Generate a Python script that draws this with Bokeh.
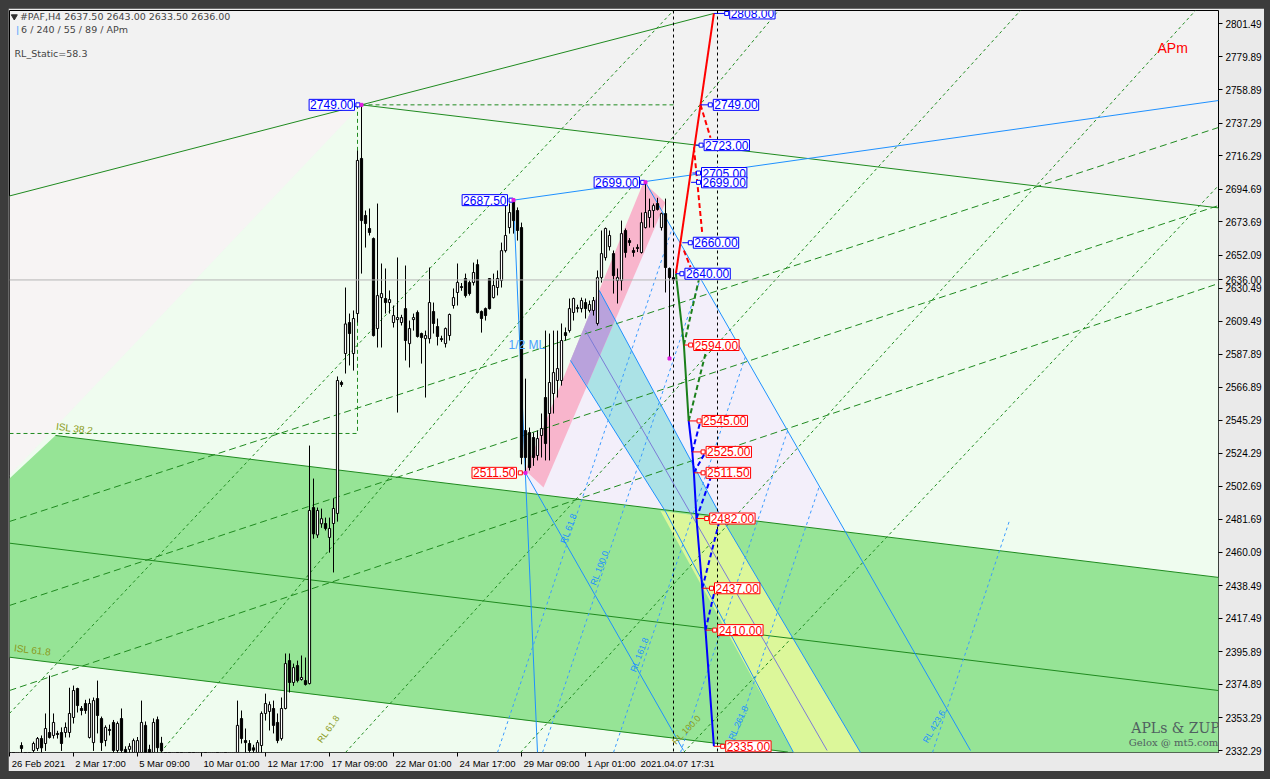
from bokeh.plotting import figure
from bokeh.models import Range1d, FixedTicker, Label, NumeralTickFormatter, Span
from bokeh.embed import file_html
from bokeh.resources import INLINE

try:
    from bokeh.models import GlobalInlineStyleSheet
    _css = [GlobalInlineStyleSheet(css="body{background:#3c3c3c !important; padding:8px 0 0 8px !important;}")]
except Exception:
    _css = []

# ---------------- data ----------------
opens = [2326, 2325, 2324, 2335.5, 2327, 2328, 2332.3, 2333.6, 2340, 2336.8,
         2343.9, 2342, 2343.3, 2343.9, 2343.9, 2343.9, 2353.6, 2372.3, 2359.4, 2362.6,
         2340.7, 2337.4, 2365.8, 2352.9, 2338.7, 2345.9, 2350.4, 2332.3, 2352.9, 2333,
         2333, 2331, 2331, 2331, 2348.5, 2333, 2331, 2352.2, 2337, 2326,
         2320, 2315, 2319, 2316, 2308, 2312, 2309, 2304, 2310, 2318,
         2314, 2317, 2322, 2319, 2324, 2321, 2326, 2331, 2352.9, 2338.7,
         2336.8, 2334, 2331, 2335.5, 2356.2, 2357.5, 2359.4, 2350.4, 2340, 2359.4,
         2390.3, 2376.2, 2387.1, 2378.1, 2377.4, 2375.5, 2489.1, 2471.4, 2478.6, 2478.8,
         2469.8, 2478.8, 2485.3, 2569.8, 2588.5, 2608.5, 2588.5, 2614.3, 2714.4, 2677.6,
         2669.2, 2662.7, 2604.6, 2624.6, 2624, 2621.4, 2608.5, 2610.4, 2608.5, 2617.5,
         2594.9, 2610.4, 2615, 2601.4, 2598.1, 2598.1, 2615.6, 2605.9, 2598.1, 2594.9,
         2600.1, 2619.5, 2627.9, 2631.7, 2636.9, 2634.3, 2634.3, 2645.9, 2615.6, 2617.5,
         2636.9, 2624.6, 2631.1, 2635.6, 2654.9, 2669.8, 2687.2, 2680.8, 2669.8, 2538.8,
         2537.5, 2534.3, 2522.7, 2535.6, 2560.1, 2549.8, 2562.7, 2571.1, 2571.1, 2602,
         2603.3, 2615, 2617.5, 2617.5, 2621.4, 2616.3, 2616.3, 2607.9, 2637.5, 2650.4,
         2657.5, 2653, 2635.6, 2635.6, 2667.9, 2661.4, 2655, 2657, 2653.7, 2669.8,
         2676.3, 2680.8, 2685.3, 2669.8, 2678.8, 2643.4, 2637.5]
highs = [2329, 2328, 2329, 2337.6, 2329, 2330, 2338, 2341, 2342, 2356.2,
         2380.7, 2356.2, 2345, 2347.2, 2350.4, 2372.8, 2374.2, 2372.8, 2361, 2365,
         2365.8, 2366.5, 2377.4, 2354.2, 2348.5, 2349, 2352, 2351, 2359.4, 2335,
         2337, 2340, 2341, 2364.5, 2351, 2336, 2353, 2354.2, 2341.1, 2329,
         2324, 2322, 2325, 2320, 2315, 2318, 2316, 2312, 2322, 2326,
         2320, 2325, 2328, 2327, 2329, 2328, 2329, 2364.5, 2358.1, 2346.5,
         2339, 2336, 2339, 2357.5, 2369, 2363.9, 2364.5, 2356.2, 2366.5, 2394.9,
         2394.9, 2388.4, 2390.3, 2393.6, 2392.3, 2529.1, 2507.8, 2489.1, 2488.4, 2482.6,
         2482.6, 2495, 2573.7, 2571, 2631.1, 2614.3, 2616.3, 2719.5, 2749, 2680.8,
         2682.1, 2663.4, 2685.3, 2646.6, 2643.4, 2629.2, 2619.5, 2650.5, 2613.5, 2645.3,
         2609.8, 2614.3, 2616.3, 2602, 2603.3, 2644, 2621.4, 2611.1, 2600, 2605.3,
         2614.3, 2630.5, 2646.6, 2634, 2640.1, 2635.6, 2647.2, 2649.2, 2616.3, 2618.2,
         2637, 2640.1, 2642.1, 2660.1, 2685.3, 2685.3, 2687.5, 2682.8, 2673, 2572.3,
         2540.7, 2537.5, 2538.8, 2549.8, 2603.3, 2601.4, 2603.3, 2603.3, 2607.9, 2605.3,
         2624, 2624.6, 2620, 2624.6, 2624, 2622.7, 2625, 2642.1, 2667.9, 2669.8,
         2667.9, 2655, 2643.4, 2674.3, 2669.2, 2663, 2657, 2659, 2679.5, 2699,
         2688.5, 2685.3, 2689, 2679.5, 2688.5, 2644, 2643]
lows = [2322, 2320, 2321, 2330, 2322, 2324, 2331, 2332, 2331, 2332,
        2340, 2340, 2340, 2332, 2340.7, 2340.7, 2349.7, 2356.8, 2355, 2356,
        2340, 2332, 2343.3, 2332, 2335, 2342, 2330, 2330, 2330, 2328,
        2329, 2329, 2329, 2329, 2329, 2328, 2329, 2331, 2328, 2318,
        2312, 2310, 2314, 2305, 2302, 2306, 2300, 2298, 2306, 2312,
        2306, 2311, 2315, 2313, 2316, 2314, 2318, 2328, 2336.8, 2330,
        2329, 2329, 2329, 2330, 2351.6, 2345.2, 2343.3, 2337, 2338.7, 2358.8,
        2369.7, 2374, 2376.2, 2377.4, 2374.2, 2374.9, 2469, 2469.5, 2476, 2474.3,
        2460, 2447.2, 2480, 2567, 2575.6, 2580.8, 2577.5, 2608.5, 2640.1, 2656.9,
        2664.7, 2599.5, 2592.4, 2592.4, 2614.3, 2614.3, 2605.3, 2550.4, 2606.6, 2584,
        2579.5, 2603.3, 2598.8, 2582, 2560.1, 2595, 2601.4, 2593.7, 2596, 2592.4,
        2596.9, 2617.5, 2619.5, 2629, 2624.6, 2625.9, 2632.4, 2614.3, 2602, 2609.8,
        2616.9, 2624, 2626, 2631.1, 2653.7, 2665.9, 2665.9, 2661.4, 2517, 2511.5,
        2513, 2516, 2519.5, 2521.4, 2519.5, 2519.5, 2549.8, 2560.1, 2567.8, 2596.9,
        2602, 2609.8, 2615, 2615, 2611.1, 2615, 2613, 2606.6, 2634.3, 2648.5,
        2655, 2627.2, 2620.8, 2629.2, 2650.4, 2658, 2651, 2654, 2653, 2669.2,
        2669.8, 2669.8, 2680.8, 2667.9, 2627.9, 2585.3, 2633.5]
closes = [2325, 2323, 2327, 2333.6, 2325, 2326, 2336.8, 2340.0, 2334, 2346.5,
          2340.7, 2350.4, 2342.6, 2336.8, 2347.2, 2356.2, 2371, 2361.3, 2358.1, 2358.1,
          2362.6, 2364.5, 2354.9, 2337.4, 2347.2, 2345.2, 2332.3, 2349.7, 2332.3, 2331,
          2335, 2338.7, 2338.7, 2350.4, 2331, 2331, 2350.4, 2334.1, 2332, 2320,
          2315, 2319, 2316, 2308, 2312, 2309, 2304, 2310, 2318, 2314,
          2317, 2322, 2319, 2324, 2321, 2326, 2327, 2348.5, 2340, 2337.4,
          2332.3, 2332.5, 2337.4, 2356.2, 2362.6, 2361.9, 2348.5, 2338.7, 2359.4, 2388.4,
          2376.2, 2385.8, 2377.4, 2379.4, 2374.9, 2487.2, 2472.1, 2487.2, 2481.9, 2475.6,
          2475.6, 2488.5, 2571.1, 2568.5, 2607.6, 2601.4, 2611.1, 2713.1, 2674.3, 2672.4,
          2666.6, 2600.1, 2625.9, 2627.2, 2621.4, 2623.3, 2613, 2611.7, 2611.7, 2596.9,
          2604.6, 2611.7, 2599.5, 2598.8, 2600.1, 2621.4, 2607.9, 2599.5, 2597.5, 2604.6,
          2613.7, 2624.6, 2634.4, 2631.1, 2625.9, 2627.2, 2640.8, 2615, 2611.1, 2613,
          2617.5, 2632.4, 2636.9, 2654.9, 2664.7, 2679.5, 2674.3, 2667.9, 2521.4, 2521.4,
          2514.9, 2521.4, 2533.6, 2540.1, 2530.4, 2569.8, 2576.2, 2578.8, 2596.9, 2600.1,
          2617.5, 2624, 2618.2, 2622.7, 2617.5, 2620.1, 2622.7, 2637.5, 2653, 2669.2,
          2664.7, 2638.8, 2637.5, 2665.9, 2653.7, 2660.1, 2653.7, 2656.3, 2673, 2679.5,
          2680.8, 2684, 2681.5, 2678.8, 2644, 2637.5, 2636]
bars = list(range(len(opens)))

x_tick_bars = [0, 16, 32, 48, 64, 80, 96, 112, 128, 144]
x_tick_labels = ["26 Feb 2021", "2 Mar 17:00", "5 Mar 09:00", "10 Mar 01:00", "12 Mar 17:00",
                 "17 Mar 09:00", "22 Mar 01:00", "24 Mar 17:00", "29 Mar 09:00", "1 Apr 01:00"]
# label centres (bars) so that each date text starts just right of its tick mark
x_label_centres = [7.25, 22.75, 38.75, 55.5, 71.5, 87.5, 103.5, 119.5, 135.5, 150.5]
cursor_label = "2021.04.07 17:31"
cursor_label_centre = 167.0
y_ticks = [2801.49, 2779.89, 2758.89, 2737.29, 2716.29, 2694.69, 2673.69, 2652.09, 2630.49,
           2609.49, 2587.89, 2566.89, 2545.29, 2524.29, 2502.69, 2481.69, 2460.09, 2438.49,
           2417.49, 2395.89, 2374.89, 2353.29, 2332.29]

last_price = 2636.00
cursor_bar = 166
cursor_bar2 = 177

pivot_bars = [88, 126, 129, 159]
pivot_prices = [2749.0, 2687.5, 2511.5, 2699.0]
pivot_box_right = [86.5, 124.75, 127.0, 157.75]
pivot_marker = [87.1, 125.4, 127.7, 158.3]

lvl_prices = [2808.0, 2749.0, 2723.0, 2705.0, 2699.0, 2660.0, 2640.0,
              2594.0, 2545.0, 2525.0, 2511.5, 2482.0, 2437.0, 2410.0, 2335.0]
lvl_point_bar = [176.1, 172.75, 171.5, 170.7, 170.4, 168.2, 166.6,
                 168.6, 169.8, 170.7, 171.1, 171.75, 173.2, 174.0, 176.1]
lvl_box_bar = [179.8, 175.7, 173.4, 172.75, 172.75, 170.7, 168.6,
               170.8, 172.9, 173.9, 173.9, 174.8, 176.0, 176.8, 178.8]

# ---------------- figure ----------------
X0, X1 = 0.0, 302.25
Y0, Y1 = 2331.0, 2809.9
FW, FH = 1209, 742
p = figure(frame_width=FW, frame_height=FH, x_range=Range1d(X0, X1), y_range=Range1d(Y0, Y1),
           output_backend="svg", toolbar_location=None, y_axis_location="right",
           min_border_left=1, min_border_top=2, min_border_right=44, min_border_bottom=19)
if _css:
    p.stylesheets = _css
p.background_fill_color = "#f2f2f2"
p.border_fill_color = "#eaeaea"
p.outline_line_color = "black"
p.outline_line_width = 1
p.grid.visible = False

AX_FONT = "Liberation Sans"
xl_pos = x_label_centres + [cursor_label_centre]
xl_txt = x_tick_labels + [cursor_label]
p.xaxis.ticker = FixedTicker(ticks=xl_pos, minor_ticks=x_tick_bars)
p.xaxis.major_label_overrides = {c: t for c, t in zip(xl_pos, xl_txt)}
p.xaxis.major_tick_out = 0
p.xaxis.major_tick_in = 0
p.xaxis.minor_tick_out = 4
p.xaxis.minor_tick_in = 0
p.xaxis.minor_tick_line_color = "black"
p.xaxis.major_label_standoff = 1
p.xaxis.major_label_text_font_size = "9.5px"
p.yaxis.ticker = FixedTicker(ticks=y_ticks + [last_price])
p.yaxis.formatter = NumeralTickFormatter(format="0.00")
p.yaxis.major_label_standoff = 3
p.yaxis.major_tick_in = 0
p.yaxis.major_tick_out = 4
p.yaxis.minor_tick_line_color = None
p.yaxis.major_label_text_font_size = "10px"
for ax in (p.xaxis, p.yaxis):
    ax.major_label_text_font = AX_FONT
    ax.major_label_text_color = "black"
    ax.axis_line_color = None
    ax.major_tick_line_color = "black"

# ---------------- shaded regions ----------------
g1_b = [X0, 88, 176.1]
g1_p = [2690.2, 2749.0, 2808.0]
g2_b = [88, X1]
g2_p = [2749.0, 2682.5]
band_up = [(11.5, 2535.6), (X1, 2444.0)]
band_mid = [(X0, 2466.1), (X1, 2371.0)]
band_lo = [(X0, 2392.5), (194.6, 2331.3)]

p.patch([X0, 88, X0], [2690.2, 2749.0, 2509.8], color="#f7f4f4", line_color=None)
p.patch([88, X1, X1, X0, X0], [2749.0, 2682.5, Y0, Y0, 2509.8], color="#effcef", line_color=None)
p.patch([159, 209.25, 130.25, 129], [2699.0, 2471.7, 2497.5, 2511.5], color="#f3effa", line_color=None)
p.patch([140.25, 147.45, 178.15, 164.0], [2584.0, 2629.2, 2482.0, 2486.5], color="#abe2e6", line_color=None)
p.patch([129, 158.5, 164, 133.5], [2513.0, 2699.0, 2685.9, 2502.0], color="#f8b5cc", line_color=None)
p.patch([140.25, 147.45, 151.4, 144.4], [2584.0, 2629.2, 2610.1, 2567.9], color="#b9a2dc", line_color=None)
p.patch([X0, 11.5, X1, X1, 194.6, X0], [2507.8, 2535.6, 2444.0, Y0, Y0, 2392.5], color="#96e496", line_color=None)
p.patch([162.75, 178.15, 212.75, 196.0], [2486.9, 2482.0, Y0, Y0], color="#dcf79a", line_color=None)

# ---------------- lines ----------------
GREEN = "#1f8a1f"
BLUE = "#1e90ff"
p.line(g1_b, g1_p, color=GREEN, line_width=1)
p.line(g2_b, g2_p, color=GREEN, line_width=1)
for seg in (band_up, band_mid, band_lo):
    p.line([seg[0][0], seg[1][0]], [seg[0][1], seg[1][1]], color=GREEN, line_width=1)

dash_long = [[(X0, 2480.1), (X1, 2734.4)], [(X0, 2425.9), (X1, 2684.0)], [(X0, 2371.0), (X1, 2633.7)]]
for s in dash_long:
    p.line([s[0][0], s[1][0]], [s[0][1], s[1][1]], color=GREEN, line_width=1, line_dash="7 4")
dash_short = [[(X0, 2356.2), (166.0, 2809.9)], [(37.75, 2331.0), (192.25, 2809.9)],
              [(84.0, 2331.0), (252.75, 2809.9)], [(127.75, 2331.0), (296.5, 2809.9)],
              [(168.5, 2331.0), (X1, 2696.9)]]
for s in dash_short:
    p.line([s[0][0], s[1][0]], [s[0][1], s[1][1]], color=GREEN, line_width=1, line_dash="3 3")

p.line([X0, 87], [2536.9, 2536.9], color=GREEN, line_width=1, line_dash="4 3")
p.line([87, 87], [2749.0, 2536.9], color=GREEN, line_width=1, line_dash="4 3")
p.line([88, 166], [2749.0, 2749.0], color=GREEN, line_width=1, line_dash="4 3")

p.line([126, X1], [2687.5, 2751.8], color=BLUE, line_width=1)
p.line([126, 132], [2687.5, Y0], color=BLUE, line_width=1)
p.line([129, 168.5], [2511.5, 2332.3], color=BLUE, line_width=1)
p.line([159, 240.25], [2699.0, 2332.3], color=BLUE, line_width=1)
p.line([147.45, 178.15, 212.75], [2629.2, 2482.0, Y0], color=BLUE, line_width=1)
p.line([140.25, 164.0, 196.0], [2584.0, 2486.5, Y0], color=BLUE, line_width=1)
p.line([144.0, 204.4], [2603.3, 2332.3], color="#7b7bd6", line_width=1)
blue_dash = [((122.0, Y0), (165.65, 2669.2)), ((133.25, Y0), (172.75, 2636.9)),
             ((151.0, Y0), (184.0, 2586.6)), ((167.75, Y0), (194.55, 2538.8)),
             ((180.25, Y0), (202.45, 2502.7)), ((230.75, Y0), (250.0, 2480.7))]
for a, b in blue_dash:
    p.line([a[0], b[0]], [a[1], b[1]], color="#3c9cff", line_width=1, line_dash="3 3")

p.add_layout(Span(location=last_price, dimension="width", line_color="#b4b4b4", line_width=1))
p.add_layout(Span(location=cursor_bar, dimension="height", line_color="black", line_width=1, line_dash="3 3"))
p.add_layout(Span(location=cursor_bar2, dimension="height", line_color="black", line_width=1, line_dash="3 3"))

# ---------------- candles ----------------
p.segment(bars, highs, bars, lows, color="black", line_width=1)
up = [i for i in bars if closes[i] >= opens[i]]
dn = [i for i in bars if closes[i] < opens[i]]
p.vbar(x=up, width=0.55, bottom=[opens[i] for i in up], top=[closes[i] for i in up],
       fill_color="white", line_color="black", line_width=1)
p.vbar(x=dn, width=0.55, bottom=[closes[i] for i in dn], top=[opens[i] for i in dn],
       fill_color="black", line_color="black", line_width=1)

# ---------------- ZUP zigzag ----------------
RED = "#ff0000"
ZBLUE = "#0000ff"
DGREEN = "#1a7f1a"
p.line([166.6, 176.1], [2640.0, 2808.0], color=RED, line_width=2)
p.line([166.6, 168.6, 169.8], [2640.0, 2594.0, 2545.0], color=DGREEN, line_width=2)
p.line([169.8, 170.7, 171.1, 171.75, 173.2, 174.0, 176.1],
       [2545.0, 2525.0, 2511.5, 2482.0, 2437.0, 2410.0, 2335.0], color=ZBLUE, line_width=2)
for a, b in [((172.75, 2749.0), (175.25, 2727.8)), ((171.1, 2721.6), (173.2, 2665.7)),
             ((168.6, 2655.0), (170.25, 2644.2))]:
    p.line([a[0], b[0]], [a[1], b[1]], color=RED, line_width=2, line_dash="5 3")
for a, b in [((169.8, 2545.0), (174.4, 2592.6)), ((168.6, 2594.0), (172.4, 2636.9))]:
    p.line([a[0], b[0]], [a[1], b[1]], color=DGREEN, line_width=2, line_dash="5 3")
for a, b in [((170.7, 2525.0), (172.75, 2545.0)), ((171.1, 2511.5), (174.0, 2525.0)),
             ((171.75, 2482.0), (175.25, 2508.0)), ((173.2, 2437.0), (177.3, 2478.6)),
             ((174.0, 2410.0), (176.5, 2437.7))]:
    p.line([a[0], b[0]], [a[1], b[1]], color=ZBLUE, line_width=2, line_dash="5 3")

BOX_FONT = "Liberation Sans"
BOX_SIZE = "12px"
for k, (pr, pb, bb) in enumerate(zip(lvl_prices, lvl_point_bar, lvl_box_bar)):
    col = ZBLUE if k < 7 else RED
    p.line([pb, bb - 0.5], [pr, pr], color=col, line_width=1)
    p.scatter([bb - 0.5], [pr], marker="square", size=4, fill_color="white", line_color=col)
    p.add_layout(Label(x=bb, y=pr, x_offset=1, text=f"{pr:.2f}", text_font=BOX_FONT,
                       text_font_size=BOX_SIZE, text_color=col, text_baseline="middle",
                       text_align="left", background_fill_color="white",
                       border_line_color=col, padding=1))

for pb, pr, br, mk in zip(pivot_bars, pivot_prices, pivot_box_right, pivot_marker):
    col = RED if pr == 2511.5 else ZBLUE
    p.line([mk, pb], [pr, pr], color=col, line_width=1)
    p.scatter([mk], [pr], marker="square", size=4, fill_color="white", line_color=col)
    p.add_layout(Label(x=br, y=pr, x_offset=-1, text=f"{pr:.2f}", text_font=BOX_FONT,
                       text_font_size=BOX_SIZE, text_color=col, text_baseline="middle",
                       text_align="right", background_fill_color="white",
                       border_line_color=col, padding=1))
p.scatter(pivot_bars, pivot_prices, marker="square", size=3, color="#e020e0")
p.scatter([165], [2585.3], marker="square", size=3, color="#e020e0")

# ---------------- texts ----------------
HF = "DejaVu Sans"
p.scatter([1.2], [2806.0], marker="inverted_triangle", size=6, color="#303030")
p.add_layout(Label(x=2.6, y=2806.0, text="#PAF,H4  2637.50 2643.00 2633.50 2636.00",
                   text_font=HF, text_font_size="9.5px", text_baseline="middle"))
p.add_layout(Label(x=1.6, y=2797.6, text="|", text_font=HF, text_font_size="9.5px",
                   text_color="#3fa0ff", text_baseline="middle"))
p.add_layout(Label(x=2.9, y=2797.6, text="6 / 240 / 55 / 89 / APm",
                   text_font=HF, text_font_size="9.5px", text_baseline="middle"))
p.add_layout(Label(x=1.25, y=2782.1, text="RL_Static=58.3",
                   text_font=HF, text_font_size="9.5px", text_baseline="middle"))
p.add_layout(Label(x=287.0, y=2786.0, text="APm", text_font="Liberation Sans", text_font_size="14px",
                   text_color=RED, text_baseline="middle"))
p.add_layout(Label(x=291.5, y=2346.5, text="APLs & ZUP", text_font="DejaVu Serif",
                   text_font_size="14px", text_color="#506060", text_align="center", text_baseline="middle"))
p.add_layout(Label(x=291.0, y=2337.4, text="Gelox @ mt5.com", text_font="DejaVu Serif",
                   text_font_size="10px", text_color="#506060", text_align="center", text_baseline="middle"))
p.add_layout(Label(x=124.75, y=2593.7, text="1/2 ML", text_font="Liberation Sans", text_font_size="12px",
                   text_color="#4aa0ff", text_baseline="middle"))
OLIVE = "#8a9a20"
for tx, bx, pr, ang in [("ISL 38.2", 11.5, 2538.0, -0.12), ("ISL 61.8", 1.0, 2395.0, -0.12)]:
    p.add_layout(Label(x=bx, y=pr, text=tx, text_font="Liberation Sans", text_font_size="10px",
                       text_color=OLIVE, angle=ang))
for tx, bx, pr, ang, col in [("RL 61.8", 78.5, 2336.0, 0.95, OLIVE), ("RL 100.0", 167.0, 2335.0, 0.8, OLIVE),
                             ("RL 261.8", 181.5, 2338.0, 1.15, BLUE), ("RL 423.6", 230.0, 2336.0, 1.05, BLUE),
                             ("RL 61.8", 139.5, 2465.0, 1.2, BLUE), ("RL 100.0", 147.0, 2438.0, 1.2, BLUE),
                             ("RL 161.8", 157.0, 2382.0, 1.2, BLUE)]:
    p.add_layout(Label(x=bx, y=pr, text=tx, text_font="Liberation Sans", text_font_size="9px",
                       text_color=col, angle=ang))

open("out.html", "w").write(file_html(p, INLINE))
